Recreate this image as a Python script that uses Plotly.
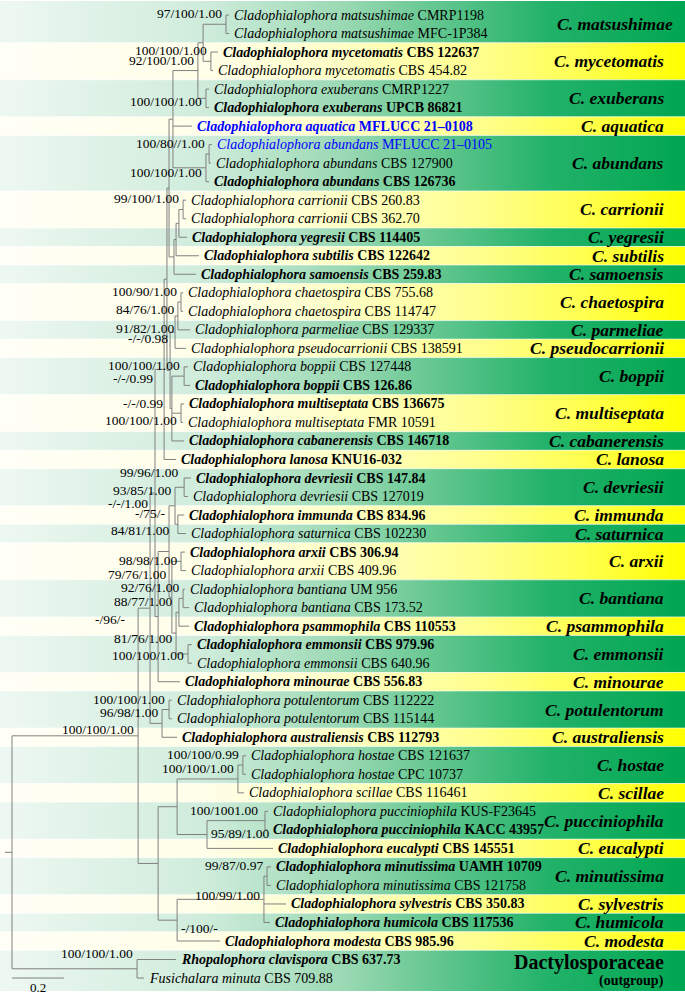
import plotly.graph_objects as go

# ---- tips (top to bottom) ----
taxa = [
    "Cladophialophora matsushimae", "Cladophialophora matsushimae",
    "Cladophialophora mycetomatis", "Cladophialophora mycetomatis",
    "Cladophialophora exuberans", "Cladophialophora exuberans",
    "Cladophialophora aquatica",
    "Cladophialophora abundans", "Cladophialophora abundans", "Cladophialophora abundans",
    "Cladophialophora carrionii", "Cladophialophora carrionii",
    "Cladophialophora yegresii", "Cladophialophora subtilis", "Cladophialophora samoensis",
    "Cladophialophora chaetospira", "Cladophialophora chaetospira",
    "Cladophialophora parmeliae", "Cladophialophora pseudocarrionii",
    "Cladophialophora boppii", "Cladophialophora boppii",
    "Cladophialophora multiseptata", "Cladophialophora multiseptata",
    "Cladophialophora cabanerensis", "Cladophialophora lanosa",
    "Cladophialophora devriesii", "Cladophialophora devriesii",
    "Cladophialophora immunda", "Cladophialophora saturnica",
    "Cladophialophora arxii", "Cladophialophora arxii",
    "Cladophialophora bantiana", "Cladophialophora bantiana",
    "Cladophialophora psammophila",
    "Cladophialophora emmonsii", "Cladophialophora emmonsii",
    "Cladophialophora minourae",
    "Cladophialophora potulentorum", "Cladophialophora potulentorum",
    "Cladophialophora australiensis",
    "Cladophialophora hostae", "Cladophialophora hostae", "Cladophialophora scillae",
    "Cladophialophora pucciniophila", "Cladophialophora pucciniophila",
    "Cladophialophora eucalypti",
    "Cladophialophora minutissima", "Cladophialophora minutissima",
    "Cladophialophora sylvestris", "Cladophialophora humicola", "Cladophialophora modesta",
    "Rhopalophora clavispora", "Fusichalara minuta",
]
strains = [
    "CMRP1198", "MFC-1P384", "CBS 122637", "CBS 454.82", "CMRP1227", "UPCB 86821",
    "MFLUCC 21–0108", "MFLUCC 21–0105", "CBS 127900", "CBS 126736", "CBS 260.83",
    "CBS 362.70", "CBS 114405", "CBS 122642", "CBS 259.83", "CBS 755.68", "CBS 114747",
    "CBS 129337", "CBS 138591", "CBS 127448", "CBS 126.86", "CBS 136675", "FMR 10591",
    "CBS 146718", "KNU16-032", "CBS 147.84", "CBS 127019", "CBS 834.96", "CBS 102230",
    "CBS 306.94", "CBS 409.96", "UM 956", "CBS 173.52", "CBS 110553", "CBS 979.96",
    "CBS 640.96", "CBS 556.83", "CBS 112222", "CBS 115144", "CBS 112793", "CBS 121637",
    "CPC 10737", "CBS 116461", "KUS-F23645", "KACC 43957", "CBS 145551", "UAMH 10709",
    "CBS 121758", "CBS 350.83", "CBS 117536", "CBS 985.96", "CBS 637.73", "CBS 709.88",
]
bold_tips = [2, 5, 6, 9, 12, 13, 14, 20, 21, 23, 24, 25, 27, 29, 33, 34, 36, 39,
             44, 45, 46, 48, 49, 50, 51]
blue_tips = [6, 7]
# distance of each tip from the root (substitutions/site)
tip_depth = [
    0.835, 0.835, 0.792, 0.773, 0.758, 0.758, 0.692, 0.769, 0.765, 0.758,
    0.669, 0.669, 0.673, 0.719, 0.708, 0.658, 0.658, 0.685, 0.669, 0.677,
    0.685, 0.662, 0.658, 0.662, 0.631, 0.688, 0.677, 0.662, 0.669, 0.665,
    0.669, 0.665, 0.681, 0.681, 0.692, 0.692, 0.646, 0.615, 0.615, 0.635,
    0.900, 0.900, 0.892, 0.985, 0.985, 1.004, 0.996, 0.996, 1.054, 0.992,
    0.800, 0.631, 0.508,
]

# ---- internal nodes: name, children, depth, support (ML/MP/PP) ----
nodes = [
    ("mats", [0, 1], 0.823, "97/100/1.00"),
    ("myce", [2, 3], 0.765, "100/100/1.00"),
    ("mm", ["mats", "myce"], 0.735, ""),
    ("exub", [4, 5], 0.746, "100/100/1.00"),
    ("B", ["mm", "exub"], 0.715, "92/100/1.00"),
    ("abun1", [7, 8], 0.758, "100/80//1.00"),
    ("abun", ["abun1", 9], 0.746, "100/100/1.00"),
    ("C", ["B", 6, "abun"], 0.619, ""),
    ("carr", [10, 11], 0.658, "99/100/1.00"),
    ("cy", ["carr", 12], 0.642, ""),
    ("cys", ["cy", 13], 0.631, ""),
    ("E", ["cys", 14], 0.623, ""),
    ("D", ["C", "E"], 0.604, ""),
    ("chae", [15, 16], 0.650, "100/90/1.00"),
    ("cp", ["chae", 17], 0.638, "84/76/1.00"),
    ("cpp", ["cp", 18], 0.627, "91/82/1.00"),
    ("bopp", [19, 20], 0.662, "100/100/1.00"),
    ("mult", [21, 22], 0.650, "100/100/1.00"),
    ("bmc", ["bopp", "mult", 23], 0.615, "-/-/0.99"),
    ("F", ["cpp", "bmc"], 0.608, "-/-/0.98"),
    ("T1", ["D", "F"], 0.596, ""),
    ("T", ["T1", 24], 0.585, "-/-/0.99"),
    ("dev", [25, 26], 0.662, "99/96/1.00"),
    ("is", [27, 28], 0.638, "-/75/-"),
    ("dis", ["dev", "is"], 0.627, "93/85/1.00"),
    ("arx", [29, 30], 0.650, "98/98/1.00"),
    ("ban", [31, 32], 0.658, "92/76/1.00"),
    ("bp", ["ban", 33], 0.642, "88/77/1.00"),
    ("emm", [34, 35], 0.677, "100/100/1.00"),
    ("be", ["bp", "emm"], 0.631, "81/76/1.00"),
    ("abe", ["arx", "be"], 0.615, "79/76/1.00"),
    ("da", ["dis", "abe"], 0.604, "84/81/1.00"),
    ("Bm", ["da", 36], 0.562, "-/96/-"),
    ("U", ["T", "Bm"], 0.550, "-/-/1.00"),
    ("pot", [37, 38], 0.604, "100/100/1.00"),
    ("potaus", ["pot", 39], 0.577, "96/98/1.00"),
    ("M", ["U", "potaus"], 0.531, ""),
    ("host", [40, 41], 0.888, "100/100/0.99"),
    ("Hs", ["host", 42], 0.869, "100/100/1.00"),
    ("Pu", [43, 44], 0.973, "100/1001.00"),
    ("Pe", ["Pu", 45], 0.750, "95/89/1.00"),
    ("L1", ["Hs", "Pe"], 0.635, ""),
    ("minu", [46, 47], 0.981, "99/87/0.97"),
    ("Mi", ["minu", 48, 49], 0.969, "100/99/1.00"),
    ("L2", ["Mi", 50], 0.635, "-/100/-"),
    ("L", ["L1", "L2"], 0.562, ""),
    ("I", ["M", "L"], 0.485, "100/100/1.00"),
    ("O", [51, 52], 0.481, "100/100/1.00"),
    ("root", ["I", "O"], 0.0, ""),
]

# ---- clade bands ----
clade_names = [
    "C. matsushimae", "C. mycetomatis", "C. exuberans", "C. aquatica", "C. abundans",
    "C. carrionii", "C. yegresii", "C. subtilis", "C. samoensis", "C. chaetospira",
    "C. parmeliae", "C. pseudocarrionii", "C. boppii", "C. multiseptata",
    "C. cabanerensis", "C. lanosa", "C. devriesii", "C. immunda", "C. saturnica",
    "C. arxii", "C. bantiana", "C. psammophila", "C. emmonsii", "C. minourae",
    "C. potulentorum", "C. australiensis", "C. hostae", "C. scillae",
    "C. pucciniophila", "C. eucalypti", "C. minutissima", "C. sylvestris",
    "C. humicola", "C. modesta", "Dactylosporaceae",
]
clade_first = [0, 2, 4, 6, 7, 10, 12, 13, 14, 15, 17, 18, 19, 21, 23, 24, 25, 27, 28,
               29, 31, 33, 34, 36, 37, 39, 40, 42, 43, 45, 46, 48, 49, 50, 51]
clade_last = [1, 3, 5, 6, 9, 11, 12, 13, 14, 16, 17, 18, 20, 22, 23, 24, 26, 27, 28,
              30, 32, 33, 35, 36, 38, 39, 41, 42, 44, 45, 47, 48, 49, 50, 52]

scale_len = 0.2
root_stem = 0.027

# ---- layout helpers (pixel geometry of the page) ----
W, H = 685, 995
PX_UNIT = 260.0      # pixels per substitution unit
X0_PX = 12.0         # root position
ROW_PX = 18.52
Y0_PX = 15.0
x_rng = [-X0_PX / PX_UNIT, (W - X0_PX) / PX_UNIT]
y_rng = [(H - Y0_PX) / ROW_PX, -Y0_PX / ROW_PX]
label_right = (666 - X0_PX) / PX_UNIT
serif = "Liberation Serif"

node_by = {n[0]: n for n in nodes}
ypos = {}


def y_of(c):
    if isinstance(c, int):
        return c
    if c not in ypos:
        kids = node_by[c][1]
        ypos[c] = (y_of(kids[0]) + y_of(kids[-1])) / 2
    return ypos[c]


def x_of(c):
    return tip_depth[c] if isinstance(c, int) else node_by[c][2]


fig = go.Figure()

green = [[0, "#eef8f2"], [0.3, "#cfecdb"], [0.5, "#9bd9b4"], [0.65, "#5ec58c"],
         [0.8, "#22b26a"], [1, "#00a651"]]
yellow = [[0, "#fffff7"], [0.3, "#fffee8"], [0.5, "#fefec6"], [0.7, "#ffff8e"],
          [0.85, "#ffff50"], [1, "#ffff00"]]

xl, xr = x_rng
for k in range(len(clade_names)):
    top = clade_first[k] - 0.5
    bot = clade_last[k] + 0.5
    if k == 0:
        top = -0.75
    if k == len(clade_names) - 1:
        bot = 52.7
    fig.add_trace(go.Scatter(
        x=[xl, xr, xr, xl, xl], y=[top, top, bot, bot, top],
        mode="none", fill="toself",
        fillgradient=dict(type="horizontal", colorscale=green if k % 2 == 0 else yellow),
        hoverinfo="skip", showlegend=False,
    ))

# faint light seams between neighbouring bands
sx, sy = [], []
for r in clade_first[1:]:
    sx += [xl, xr, None]
    sy += [r - 0.5, r - 0.5, None]
fig.add_trace(go.Scatter(x=sx, y=sy, mode="lines", opacity=0.6,
                         line=dict(color="white", width=1), hoverinfo="skip",
                         showlegend=False))

# branches
bx, by = [], []
for name, kids, depth, sup in nodes:
    bx += [depth, depth, None]
    by += [y_of(kids[0]), y_of(kids[-1]), None]
    for c in kids:
        bx += [depth, x_of(c), None]
        by += [y_of(c), y_of(c), None]
bx += [-root_stem, 0, None]
by += [y_of("root"), y_of("root"), None]
fig.add_trace(go.Scatter(x=bx, y=by, mode="lines", line=dict(color="#808080", width=1),
                         hoverinfo="skip", showlegend=False))

# scale bar
fig.add_trace(go.Scatter(x=[0, scale_len], y=[52.0, 52.0], mode="lines",
                         line=dict(color="#808080", width=1), hoverinfo="skip",
                         showlegend=False))
fig.add_annotation(x=scale_len / 2, y=52.0, text=str(scale_len), showarrow=False,
                   yanchor="top", yshift=0, font=dict(family=serif, size=13, color="black"))

# tip labels
for i, (sp, st) in enumerate(zip(taxa, strains)):
    txt = f"<i>{sp}</i> {st}"
    if i in bold_tips:
        txt = f"<b>{txt}</b>"
    fig.add_annotation(x=tip_depth[i], y=i, text=txt, showarrow=False,
                       xanchor="left", yanchor="middle", xshift=3,
                       font=dict(family=serif, size=14,
                                 color="#0000ff" if i in blue_tips else "black"))

# support values (pixel nudges where the original places them off the node)
nudge = {"exub": (0, 14), "abun": (0, 15), "cp": (0, 4), "cpp": (3, 7), "F": (2, -21),
         "bmc": (-5, 5), "mult": (0, 18), "T": (-7, 20), "dev": (-2, -4), "is": (-9, 0),
         "dis": (0, -5), "arx": (0, 10), "bp": (-3, 0), "emm": (0, 12), "be": (0, 16),
         "abe": (-2, -12), "da": (4, -11), "Bm": (-29, 13), "U": (-3, 21), "I": (0, 4),
         "O": (0, -5), "Pu": (-3, 0), "Mi": (0, 7)}
right_side = {"Pe": -1, "L2": 8}
sup_font = dict(family=serif, size=13.5, color="black")
for name, kids, depth, sup in nodes:
    if not sup:
        continue
    if name in right_side:
        fig.add_annotation(x=depth, y=y_of(name), text=sup, showarrow=False,
                           xanchor="left", yanchor="middle", xshift=2,
                           yshift=-right_side[name], font=sup_font)
        continue
    dx, dy = nudge.get(name, (0, 0))
    fig.add_annotation(x=depth, y=y_of(name), text=sup, showarrow=False,
                       xanchor="right", yanchor="bottom", xshift=-2 + dx, yshift=1 - dy,
                       font=sup_font)

# clade names
for k, nm in enumerate(clade_names):
    yc = (clade_first[k] + clade_last[k]) / 2
    if nm == "Dactylosporaceae":
        fig.add_annotation(x=label_right, y=yc, text=f"<b>{nm}</b>", showarrow=False,
                           xanchor="right", yanchor="middle", yshift=6,
                           font=dict(family=serif, size=20, color="black"))
        fig.add_annotation(x=label_right, y=yc, text="<b>(outgroup)</b>", showarrow=False,
                           xanchor="right", yanchor="middle", yshift=-12,
                           font=dict(family=serif, size=14, color="black"))
        continue
    fig.add_annotation(x=label_right, y=yc, text=f"<b><i>{nm}</i></b>", showarrow=False,
                       xanchor="right", yanchor="middle", xshift=9 if k == 0 else 0,
                       font=dict(family=serif, size=17.5, color="black"))

fig.update_layout(
    width=W, height=H,
    margin=dict(l=0, r=0, t=0, b=0),
    paper_bgcolor="white", plot_bgcolor="white",
    xaxis=dict(range=x_rng, visible=False, fixedrange=True),
    yaxis=dict(range=y_rng, visible=False, fixedrange=True),
    showlegend=False,
)

# drop the browser's default 8px body margin so the figure fills the window
fig.write_html("out.html", config={"displayModeBar": False},
               post_script="document.body.style.margin='0px';")
